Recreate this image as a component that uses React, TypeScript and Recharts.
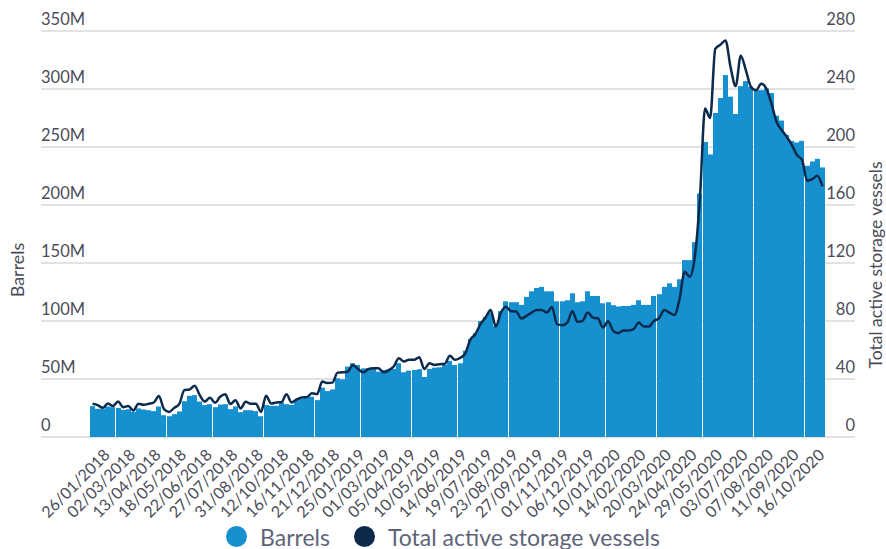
import {
    ComposedChart,
    Bar,
    Line,
    XAxis,
    YAxis,
    CartesianGrid,
    Legend,
} from "recharts";

const DATES = [
    "05/01/2018", "12/01/2018", "19/01/2018", "26/01/2018", "02/02/2018", "09/02/2018",
    "16/02/2018", "23/02/2018", "02/03/2018", "09/03/2018", "16/03/2018", "23/03/2018",
    "06/04/2018", "13/04/2018", "20/04/2018", "27/04/2018", "04/05/2018", "11/05/2018",
    "18/05/2018", "25/05/2018", "01/06/2018", "08/06/2018", "15/06/2018", "22/06/2018",
    "29/06/2018", "06/07/2018", "13/07/2018", "20/07/2018", "27/07/2018", "03/08/2018",
    "10/08/2018", "17/08/2018", "24/08/2018", "31/08/2018", "07/09/2018", "14/09/2018",
    "21/09/2018", "05/10/2018", "12/10/2018", "19/10/2018", "26/10/2018", "02/11/2018",
    "09/11/2018", "16/11/2018", "23/11/2018", "30/11/2018", "07/12/2018", "14/12/2018",
    "21/12/2018", "28/12/2018", "04/01/2019", "11/01/2019", "18/01/2019", "25/01/2019",
    "01/02/2019", "08/02/2019", "15/02/2019", "22/02/2019", "01/03/2019", "08/03/2019",
    "15/03/2019", "22/03/2019", "29/03/2019", "05/04/2019", "12/04/2019", "19/04/2019",
    "26/04/2019", "03/05/2019", "10/05/2019", "17/05/2019", "24/05/2019", "31/05/2019",
    "07/06/2019", "14/06/2019", "21/06/2019", "28/06/2019", "05/07/2019", "12/07/2019",
    "19/07/2019", "26/07/2019", "02/08/2019", "09/08/2019", "16/08/2019", "23/08/2019",
    "30/08/2019", "06/09/2019", "13/09/2019", "20/09/2019", "27/09/2019", "04/10/2019",
    "11/10/2019", "18/10/2019", "25/10/2019", "01/11/2019", "08/11/2019", "15/11/2019",
    "22/11/2019", "29/11/2019", "06/12/2019", "13/12/2019", "20/12/2019", "27/12/2019",
    "03/01/2020", "10/01/2020", "17/01/2020", "24/01/2020", "31/01/2020", "07/02/2020",
    "14/02/2020", "21/02/2020", "28/02/2020", "06/03/2020", "13/03/2020", "20/03/2020",
    "27/03/2020", "03/04/2020", "10/04/2020", "17/04/2020", "24/04/2020", "01/05/2020",
    "08/05/2020", "15/05/2020", "22/05/2020", "29/05/2020", "05/06/2020", "12/06/2020",
    "19/06/2020", "26/06/2020", "03/07/2020", "10/07/2020", "17/07/2020", "24/07/2020",
    "31/07/2020", "07/08/2020", "14/08/2020", "21/08/2020", "28/08/2020", "04/09/2020",
    "11/09/2020", "18/09/2020", "25/09/2020", "02/10/2020", "09/10/2020", "16/10/2020",
];

// barrels in storage, millions
const BARRELS_M = [
    26.6, 24.3, 24.3, 26.3, 25.7, 25.1, 23.4, 24.0, 21.7, 24.6, 23.7, 23.1,
    22.3, 26.3, 18.8, 17.9, 19.7, 22.0, 30.9, 35.5, 36.1, 30.6, 27.5, 28.3,
    25.7, 28.0, 28.3, 24.0, 26.3, 21.4, 23.1, 23.1, 22.3, 17.9, 27.5, 26.9,
    26.9, 29.8, 28.3, 27.7, 31.8, 33.2, 33.8, 34.7, 31.8, 42.5, 39.6, 41.0,
    50.6, 49.7, 60.7, 63.6, 62.1, 59.2, 59.2, 59.2, 56.4, 57.8, 58.4, 58.7,
    63.6, 55.8, 57.2, 57.8, 58.4, 51.7, 58.7, 59.8, 60.1, 62.1, 65.6, 62.1,
    63.5, 74.4, 84.4, 89.6, 99.9, 103.6, 107.3, 95.9, 108.5, 117.0, 116.2, 116.2,
    113.9, 120.8, 125.6, 128.5, 129.4, 125.6, 125.6, 117.0, 117.0, 117.9, 123.9, 116.2,
    117.0, 125.6, 121.6, 121.6, 115.3, 116.2, 113.6, 112.5, 113.0, 113.0, 113.9, 117.9,
    113.9, 113.9, 121.6, 123.1, 129.4, 132.5, 129.4, 136.0, 152.5, 152.5, 168.0, 210.0,
    254.4, 243.6, 279.3, 292.2, 312.0, 293.4, 278.5, 302.5, 306.8, 302.0, 299.0, 299.0,
    300.5, 296.5, 277.0, 272.8, 260.4, 255.3, 253.9, 255.3, 233.8, 237.5, 239.8, 232.4,
];

const VESSELS = [
    22.9, 22.0, 20.1, 23.1, 21.3, 24.5, 20.6, 21.3, 18.3, 22.9, 22.2, 22.9,
    23.8, 28.2, 19.2, 17.3, 20.1, 22.9, 32.4, 32.8, 35.4, 28.9, 24.5, 27.1,
    23.6, 27.7, 29.4, 22.7, 25.4, 19.7, 24.3, 22.9, 22.9, 17.3, 28.4, 23.1,
    23.8, 24.0, 29.4, 23.8, 25.9, 27.3, 27.5, 30.1, 29.6, 38.2, 37.2, 37.5,
    44.4, 44.6, 45.1, 49.7, 46.9, 44.6, 46.7, 47.4, 47.4, 44.6, 46.0, 48.6,
    54.3, 52.0, 53.2, 53.2, 55.0, 46.9, 50.9, 49.7, 50.2, 50.4, 56.0, 53.2,
    54.5, 57.5, 67.0, 70.9, 77.8, 82.4, 87.6, 76.2, 85.8, 89.9, 86.7, 86.5,
    81.7, 83.5, 85.8, 87.6, 87.6, 85.8, 89.7, 77.8, 77.1, 78.9, 86.7, 79.4,
    80.1, 85.8, 82.4, 81.9, 75.5, 79.9, 73.2, 71.6, 73.5, 73.5, 74.4, 78.9,
    76.2, 76.2, 80.1, 81.9, 87.6, 85.8, 84.2, 95.0, 114.0, 110.5, 124.3, 165.0,
    226.5, 220.0, 267.7, 270.5, 273.5, 255.0, 242.0, 263.0, 252.9, 241.4, 239.1, 243.7,
    240.3, 230.0, 217.4, 211.7, 207.1, 201.4, 194.5, 191.1, 176.7, 177.8, 180.1, 172.8,
];

const TICK_DATES = [
    "26/01/2018", "02/03/2018", "13/04/2018", "18/05/2018", "22/06/2018", "27/07/2018",
    "31/08/2018", "12/10/2018", "16/11/2018", "21/12/2018", "25/01/2019", "01/03/2019",
    "05/04/2019", "10/05/2019", "14/06/2019", "19/07/2019", "23/08/2019", "27/09/2019",
    "01/11/2019", "06/12/2019", "10/01/2020", "14/02/2020", "20/03/2020", "24/04/2020",
    "29/05/2020", "03/07/2020", "07/08/2020", "11/09/2020", "16/10/2020",
];

const BARREL_TICKS = [0, 50, 100, 150, 200, 250, 300, 350];

const VESSEL_TICKS = [0, 40, 80, 120, 160, 200, 240, 280];

const FONT = "Lato, 'Noto Sans', sans-serif";
const TEXT = "#4b4c58";
const BAR_BLUE = "#1790d0";
const NAVY = "#0c2a4c";

const data = DATES.map((date, i) => ({
    date,
    barrels: BARRELS_M[i],
    vessels: VESSELS[i],
}));

// bars snapped to whole pixels, which leaves the thin white seams of the original
const SnappedBar = (props: any) => {
    const { x, y, width, height, fill } = props;
    if (!height) return null;
    return (
        <rect
            x={Math.round(x)}
            y={y}
            width={Math.floor(width)}
            height={height}
            fill={fill}
        />
    );
};

const DateTick = ({ x, y, payload }: any) => {
    const tx = x + 3;
    const ty = y + 19;
    return (
        <text
            x={tx}
            y={ty}
            transform={`rotate(-45, ${tx}, ${ty})`}
            textAnchor="end"
            fontFamily={FONT}
            fontSize={16}
            fill={TEXT}
        >
            {payload.value}
        </text>
    );
};

const LeftTick = ({ x, y, payload }: any) => (
    <text x={x} y={y - 6} textAnchor="start" fontFamily={FONT} fontSize={16.5} fill={TEXT}>
        {payload.value === 0 ? "0" : `${payload.value}M`}
    </text>
);

const RightTick = ({ x, y, payload }: any) => (
    <text x={x} y={y - 6} textAnchor="end" fontFamily={FONT} fontSize={16.5} fill={TEXT}>
        {payload.value}
    </text>
);

const renderLegend = ({ payload }: any) => (
    <div
        style={{
            display: "flex",
            justifyContent: "center",
            alignItems: "center",
            height: 25,
            fontFamily: FONT,
            fontSize: 23,
            color: "#60647a",
        }}
    >
        {(payload || []).map((entry: any) => (
            <span
                key={entry.value}
                style={{ display: "flex", alignItems: "center", margin: "0 12px" }}
            >
                <span
                    style={{
                        width: 21,
                        height: 21,
                        borderRadius: "50%",
                        background: entry.color,
                        marginRight: 13,
                    }}
                />
                {entry.value}
            </span>
        ))}
    </div>
);

const App = () => {
    return (
        <div style={{ position: "absolute", left: 0, top: 0 }}>
            <ComposedChart
                width={886}
                height={549}
                data={data}
                margin={{ top: 31, right: 30, bottom: 0, left: 40 }}
                barCategoryGap={0}
            >
                <CartesianGrid
                    yAxisId="left"
                    vertical={false}
                    stroke="#d9d9d9"
                    strokeWidth={1.5}
                />
                <XAxis
                    dataKey="date"
                    ticks={TICK_DATES}
                    interval={0}
                    padding={{ left: 49, right: 30 }}
                    height={87}
                    axisLine={false}
                    tickLine={false}
                    tickSize={0}
                    tickMargin={0}
                    tick={<DateTick />}
                />
                <YAxis
                    yAxisId="left"
                    width={1}
                    domain={[0, 350]}
                    ticks={BARREL_TICKS}
                    interval={0}
                    axisLine={false}
                    tickLine={false}
                    tickSize={0}
                    tickMargin={0}
                    tick={<LeftTick />}
                    label={{
                        value: "Barrels",
                        angle: -90,
                        position: "center",
                        dx: -23,
                        dy: 36,
                        fontFamily: FONT,
                        fontSize: 18,
                        fill: TEXT,
                    }}
                />
                <YAxis
                    yAxisId="right"
                    orientation="right"
                    width={1}
                    domain={[0, 280]}
                    ticks={VESSEL_TICKS}
                    interval={0}
                    axisLine={false}
                    tickLine={false}
                    tickSize={0}
                    tickMargin={0}
                    tick={<RightTick />}
                    label={{
                        value: "Total active storage vessels",
                        angle: -90,
                        position: "center",
                        dx: 20,
                        dy: 31,
                        fontFamily: FONT,
                        fontSize: 17.5,
                        fill: TEXT,
                    }}
                />
                <Legend
                    verticalAlign="bottom"
                    content={renderLegend}
                    wrapperStyle={{ left: 0, width: 886 }}
                />
                <Bar
                    yAxisId="left"
                    dataKey="barrels"
                    name="Barrels"
                    fill={BAR_BLUE}
                    shape={<SnappedBar />}
                    isAnimationActive={false}
                />
                <Line
                    yAxisId="right"
                    dataKey="vessels"
                    name="Total active storage vessels"
                    type="monotone"
                    stroke={NAVY}
                    strokeWidth={2.5}
                    dot={false}
                    activeDot={false}
                    isAnimationActive={false}
                />
            </ComposedChart>
        </div>
    );
};

export default App;
